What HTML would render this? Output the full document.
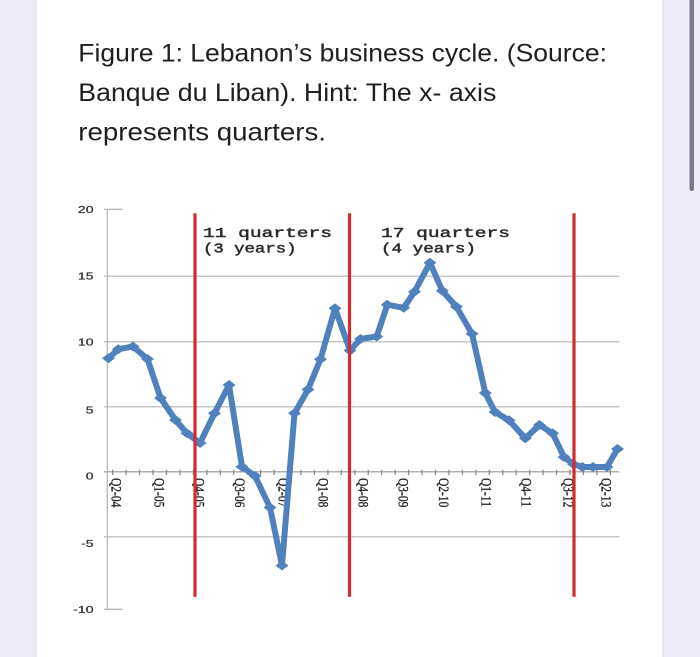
<!DOCTYPE html>
<html>
<head>
<meta charset="utf-8">
<style>
  html, body { margin:0; padding:0; width:700px; height:657px; overflow:hidden; background:#ecebf6; }
  svg { display:block; }
</style>
</head>
<body>
<svg width="700" height="657" viewBox="0 0 700 657" xmlns="http://www.w3.org/2000/svg">
  <defs>
    <marker id="dm" viewBox="-7 -5 14 10" markerWidth="14" markerHeight="10" markerUnits="userSpaceOnUse" refX="0" refY="0">
      <path d="M0,-5 L6.5,0 L0,5 L-6.5,0 Z" fill="#4f81bd"/>
    </marker>
  </defs>

  <rect x="0" y="0" width="700" height="657" fill="#ecebf6"/>
  <rect x="36" y="-2" width="627" height="665" fill="#ffffff" stroke="#e0deee" stroke-width="1"/>
  <rect x="689.5" y="-4" width="4.5" height="195" rx="2.2" fill="#7b7689"/>

  <g font-family="Liberation Sans, Arial, sans-serif" font-size="25" fill="#1f1f1f">
    <text x="78.3" y="61.7" textLength="528.7" lengthAdjust="spacingAndGlyphs">Figure 1: Lebanon’s business cycle. (Source:</text>
    <text x="78.3" y="101" textLength="418" lengthAdjust="spacingAndGlyphs">Banque du Liban). Hint: The x- axis</text>
    <text x="78.3" y="140.3" textLength="247.7" lengthAdjust="spacingAndGlyphs">represents quarters.</text>
  </g>

  <path d="M104 276.3H619.3M104 341.7H619.3M104 406.7H619.3M104 536.7H619.3" stroke="#c6c6c6" stroke-width="1.5" fill="none"/>
  <path d="M107.3 209.3V609.3M104 209.3H122.7M104 609.3H122.7" stroke="#b8b8b8" stroke-width="1.3" fill="none"/>
  <line x1="104" y1="471.7" x2="619.3" y2="471.7" stroke="#b0b0b0" stroke-width="1.5"/>
  <line x1="112.05" y1="472.4" x2="612" y2="472.4" stroke="#8a8a8a" stroke-width="5.2" stroke-dasharray="1.3 12.15"/>

  <g font-family="Liberation Sans, Arial, sans-serif" font-size="10" fill="#333333" text-anchor="end" stroke="#333333" stroke-width="0.25">
    <text transform="translate(93.5,213) scale(1.4,1)">20</text>
    <text transform="translate(93.5,279.7) scale(1.4,1)">15</text>
    <text transform="translate(93.5,345.4) scale(1.4,1)">10</text>
    <text transform="translate(93.5,413.7) scale(1.4,1)">5</text>
    <text transform="translate(93.5,479.7) scale(1.4,1)">0</text>
    <text transform="translate(93.5,547) scale(1.4,1)">-5</text>
    <text transform="translate(93.5,613) scale(1.4,1)">-10</text>
  </g>

  <g font-family="Liberation Serif, 'Times New Roman', serif" font-size="11.5" fill="#222222" stroke="#222222" stroke-width="0.25" dominant-baseline="central">
    <text transform="translate(116.7,478) rotate(90) scale(1,1.3)">Q2-04</text>
    <text transform="translate(159.3,478) rotate(90) scale(1,1.3)">Q1-05</text>
    <text transform="translate(199.3,478) rotate(90) scale(1,1.3)">Q4-05</text>
    <text transform="translate(240,478) rotate(90) scale(1,1.3)">Q3-06</text>
    <text transform="translate(283.3,478) rotate(90) scale(1,1.3)">Q2-07</text>
    <text transform="translate(323.3,478) rotate(90) scale(1,1.3)">Q1-08</text>
    <text transform="translate(363.3,478) rotate(90) scale(1,1.3)">Q4-08</text>
    <text transform="translate(403.3,478) rotate(90) scale(1,1.3)">Q3-09</text>
    <text transform="translate(444,478) rotate(90) scale(1,1.3)">Q2-10</text>
    <text transform="translate(486.7,478) rotate(90) scale(1,1.3)">Q1-11</text>
    <text transform="translate(526.7,478) rotate(90) scale(1,1.3)">Q4-11</text>
    <text transform="translate(568.3,478) rotate(90) scale(1,1.3)">Q3-12</text>
    <text transform="translate(606.7,478) rotate(90) scale(1,1.3)">Q2-13</text>
  </g>

  <g font-family="Liberation Mono, 'DejaVu Sans Mono', monospace" font-size="14" fill="#2a2a2a" stroke="#2a2a2a" stroke-width="0.45">
    <text x="203" y="237" textLength="129" lengthAdjust="spacingAndGlyphs">11 quarters</text>
    <text x="203" y="252.5" textLength="93.5" lengthAdjust="spacingAndGlyphs">(3 years)</text>
    <text x="381" y="237" textLength="129" lengthAdjust="spacingAndGlyphs">17 quarters</text>
    <text x="381" y="252.5" textLength="95" lengthAdjust="spacingAndGlyphs">(4 years)</text>
  </g>

  <polyline fill="none" stroke="#4f81bd" stroke-width="6" stroke-linejoin="round" stroke-linecap="round"
    marker-start="url(#dm)" marker-mid="url(#dm)" marker-end="url(#dm)"
    points="108.5,358.3 118.3,349.2 133,346.5 147.5,359 160.5,398 175.5,420 187,433.3 200,443 214.5,413.3 229,385 242,466.7 255,476 270,507.5 282,565.5 294.5,413.3 308,389.5 320.5,359.2 335,308.3 350,350.5 360.5,339 376.7,336.5 387.3,304.7 403.7,307.8 414.5,291.7 430,262.7 442.3,290.8 456.4,306.7 472,333.7 485.3,393 495,412 509,420.3 525.3,438.3 539.5,425 552.6,433.3 564,457 573.6,464.2 582.4,467 593,467 607,467 617.5,449"/>

  <path d="M195 213.3V596.7M349.5 213.3V596.7M574 213.3V596.7" stroke="#d42b2f" stroke-width="3.2" fill="none"/>
</svg>
</body>
</html>
